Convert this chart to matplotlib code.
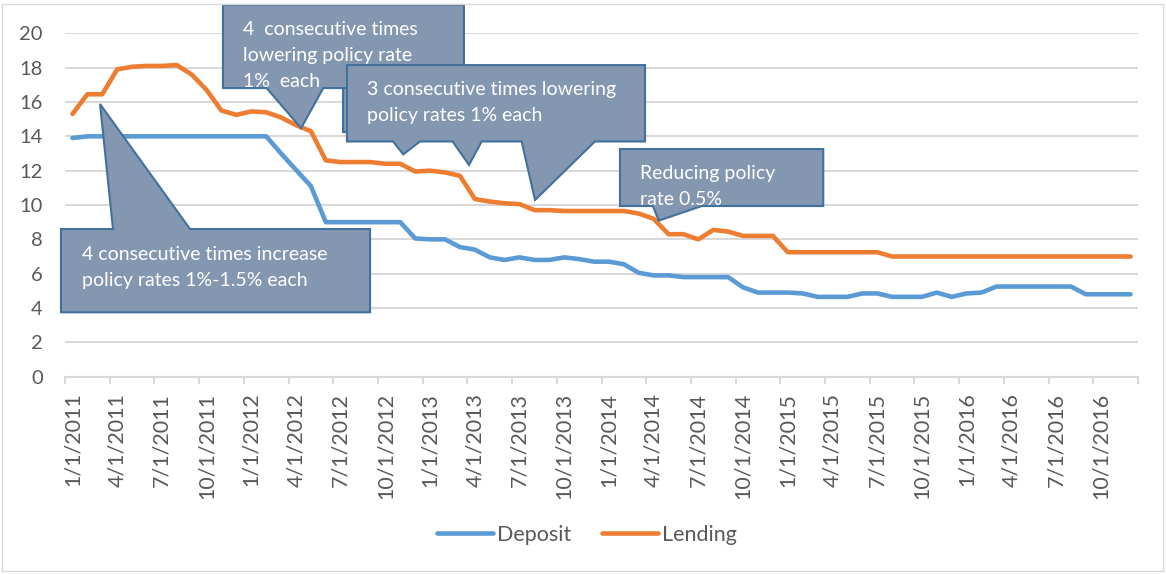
import numpy as np
import matplotlib
matplotlib.use('Agg')
import matplotlib.pyplot as plt
from matplotlib.patches import Polygon, Rectangle

plt.rcParams['font.family'] = ['Lato', 'DejaVu Sans']

# monthly rates, Jan 2011 .. Dec 2016
deposit = [13.9] + [14.0] * 13 + [13.0, 12.05, 11.1] + [9.0] * 6 + [
    8.05, 8.0, 8.0, 7.55, 7.4, 6.95, 6.8, 6.95, 6.8, 6.8, 6.95, 6.85, 6.7, 6.7,
    6.55, 6.05, 5.9, 5.9, 5.8, 5.8, 5.8, 5.8, 5.2, 4.9, 4.9, 4.9, 4.85, 4.65,
    4.65, 4.65, 4.85, 4.85, 4.65, 4.65, 4.65, 4.9, 4.65, 4.85, 4.9] + [5.25] * 6 + [4.8] * 4
lending = [15.3, 16.45, 16.45, 17.9, 18.05, 18.1, 18.1, 18.15, 17.6, 16.7, 15.5,
           15.25, 15.45, 15.4, 15.1, 14.65, 14.3, 12.6, 12.5, 12.5, 12.5, 12.4,
           12.4, 11.95, 12.0, 11.9, 11.7, 10.35, 10.2, 10.1, 10.05, 9.7, 9.7] + \
          [9.65] * 5 + [9.5, 9.2, 8.3, 8.3, 8.0, 8.55, 8.45, 8.2, 8.2, 8.2] + \
          [7.25] * 7 + [7.0] * 17
date_labels = [f"{m}/1/{y}" for y in range(2011, 2017) for m in (1, 4, 7, 10)]

BOX_FILL = '#8497B0'
BOX_EDGE = '#41719C'
GRID = '#D9D9D9'
TXT = '#595959'

fig = plt.figure(figsize=(11.66, 5.74), dpi=100)
ax = fig.add_axes([65 / 1166, 197.3 / 574, 1073 / 1166, 343.4 / 574])

x = np.arange(len(deposit)) + 0.5
ax.plot(x, deposit, color='#5B9BD5', lw=3.3, label='Deposit', zorder=2,
        solid_capstyle='round', solid_joinstyle='round')
ax.plot(x, lending, color='#ED7D31', lw=3.3, label='Lending', zorder=2,
        solid_capstyle='round', solid_joinstyle='round')

ax.set_xlim(0, len(deposit))
ax.set_ylim(0, 20)
ax.set_yticks(range(0, 21, 2))
ax.yaxis.grid(True, color=GRID, lw=1.5)
ax.set_axisbelow(True)
for s in ['left', 'top', 'right']:
    ax.spines[s].set_visible(False)
ax.spines['bottom'].set_color(GRID)
ax.spines['bottom'].set_linewidth(1.5)
ax.tick_params(axis='y', length=0, pad=16, labelsize=14.5, labelcolor=TXT)

# ticks between categories, labels on the month centres
ax.set_xticks(np.arange(0, len(deposit) + 1, 3))
ax.set_xticklabels([])
ax.tick_params(axis='x', which='major', length=5, width=1.5, color=GRID)
ax.set_xticks(np.arange(0, len(deposit), 3) + 0.5, minor=True)
ax.set_xticklabels(date_labels, minor=True, rotation=90)
ax.tick_params(axis='x', which='minor', length=0, pad=11.5, labelsize=15.5,
               labelcolor=TXT)


def callout(box, pointers, lines, z):
    x0, x1, y0, y1 = box
    top = [(x0, y1)]
    bottom = []
    for bx0, bx1, tip in pointers:
        if tip[1] > y1:
            top += [(bx0, y1), tip, (bx1, y1)]
        else:
            bottom += [(bx1, y0), tip, (bx0, y0)]
    bottom = sorted([bottom[i:i + 3] for i in range(0, len(bottom), 3)],
                    key=lambda p: -p[0][0])
    verts = top + [(x1, y1), (x1, y0)] + [v for p in bottom for v in p] + [(x0, y0)]
    ax.add_patch(Polygon(verts, closed=True, fc=BOX_FILL, ec=BOX_EDGE, lw=1.5,
                         joinstyle='miter', clip_on=False, zorder=z))
    for tx, ty, s in lines:
        ax.text(tx, ty, s, color='white', fontsize=14, va='baseline', ha='left',
                zorder=z + 0.5, clip_on=False)


# shape peeking out behind the three-pointer callout
ax.add_patch(Rectangle((18.65, 14.25), 11.0, 2.62, fc=BOX_FILL, ec=BOX_EDGE,
                       lw=1.5, clip_on=False, zorder=3))

callout((-0.27, 20.47, 3.75, 8.60), [(3.22, 8.39, (2.35, 15.88))],
        [(1.12, 6.77, '4 consecutive times increase'),
         (1.12, 5.31, 'policy rates 1%-1.5% each')], 4)
callout((10.60, 26.77, 16.81, 21.65), [(13.53, 17.33, (15.84, 14.47))],
        [(11.92, 19.90, '4  consecutive times'),
         (11.92, 18.39, 'lowering policy rate'),
         (11.92, 16.89, '1%  each')], 4)
callout((18.92, 38.92, 13.70, 18.15),
        [(22.01, 23.82, (22.70, 12.95)), (26.01, 27.96, (27.11, 12.33)),
         (30.64, 35.56, (31.54, 10.29))],
        [(20.24, 16.41, '3 consecutive times lowering'),
         (20.24, 14.91, 'policy rates 1% each')], 5)
callout((37.24, 50.88, 9.94, 13.26), [(39.45, 42.73, (39.84, 9.09))],
        [(38.58, 11.50, 'Reducing policy'),
         (38.58, 10.00, 'rate 0.5%')], 6)

fig.legend(loc='center', bbox_to_anchor=(587 / 1166, 1 - 535 / 574), ncol=2,
           frameon=False, fontsize=15.5, handlelength=2.6, handletextpad=0.2,
           columnspacing=1.4, labelcolor=TXT)

fig.patches.append(Rectangle((2 / 1166, 3 / 574), 1161 / 1166, 567 / 574,
                             transform=fig.transFigure, fill=False, ec=GRID, lw=1))

fig.savefig('out.png', dpi=100)
